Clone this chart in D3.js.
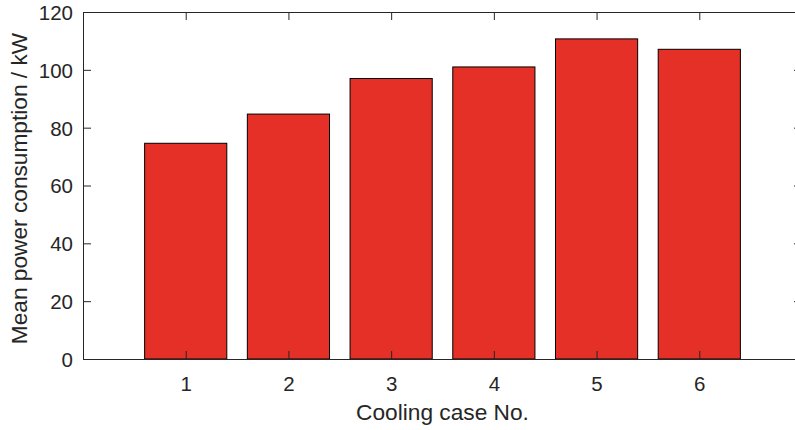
<!DOCTYPE html>
<html>
<head>
    <title>Mean power consumption per cooling case</title>
    <style type="text/css">
        body { margin: 0; background: #fff; }
        svg { display: block; font-family: "Liberation Sans", Arial, sans-serif; }
        .axis path, .axis line { stroke: #262626; stroke-width: 1px; }
        .axis text { fill: #262626; font-size: 20.5px; }
        .bar { fill: #e53027; stroke: #000; stroke-width: 1px; }
        .label { fill: #262626; font-size: 22.7px; }
    </style>
</head>
<body>
<div id="chart"></div>
<script src="https://d3js.org/d3.v7.min.js"></script>
<script>
  // data
  var cases = [1, 2, 3, 4, 5, 6];
  var power = [74.6, 84.7, 97.0, 101.0, 110.7, 107.1];
  var yTicks = [0, 20, 40, 60, 80, 100, 120];

  var width = 795, height = 430;
  var margin = {left: 83, top: 12, right: -7, bottom: 71};

  var svg = d3.select("#chart").append("svg")
      .attr("width", width).attr("height", height);

  //  x runs 0..7 like the matlab default, right edge falls just past the window
  var x = d3.scaleLinear().domain([0, 7]).range([margin.left, width - margin.right]);
  var y = d3.scaleLinear().domain([0, 120]).range([height - margin.bottom, margin.top]);
  var bw = x(0.8) - x(0);

  svg.append("g").selectAll("rect")
      .data(power)
      .enter().append("rect")
        .attr("class", "bar")
        .attr("x", (d, i) => x(cases[i]) - bw / 2)
        .attr("y", d => y(d))
        .attr("width", bw)
        .attr("height", d => y(0) - y(d));

  //  box: bottom/left with labels, top/right with inward ticks only
  svg.append("g").attr("class", "axis")
      .attr("transform", "translate(0," + y(0) + ")")
      .call(d3.axisBottom(x).tickValues(cases).tickFormat(d3.format("d"))
              .tickSizeInner(-8).tickSizeOuter(0).tickPadding(17))
      .call(g => g.selectAll("text").attr("dy", "0.72em"));

  svg.append("g").attr("class", "axis")
      .attr("transform", "translate(0," + y(120) + ")")
      .call(d3.axisTop(x).tickValues(cases).tickSizeInner(-8).tickSizeOuter(0).tickFormat(""));

  svg.append("g").attr("class", "axis")
      .attr("transform", "translate(" + x(0) + ",0)")
      .call(d3.axisLeft(y).tickValues(yTicks).tickFormat(d3.format("d"))
              .tickSizeInner(-8).tickSizeOuter(0).tickPadding(10))
      .call(g => g.selectAll("text").attr("dy", "0.36em"));

  svg.append("g").attr("class", "axis")
      .attr("transform", "translate(" + x(7) + ",0)")
      .call(d3.axisRight(y).tickValues(yTicks).tickSizeInner(-8).tickSizeOuter(0).tickFormat(""));

  svg.append("text").attr("class", "label")
      .attr("x", (x(0) + x(7)) / 2).attr("y", 420)
      .attr("text-anchor", "middle")
      .text("Cooling case No.");

  svg.append("text").attr("class", "label")
      .attr("transform", "translate(27," + (y(60) + 3) + ") rotate(-90)")
      .attr("text-anchor", "middle")
      .text("Mean power consumption / kW");
</script>
</body>
</html>
